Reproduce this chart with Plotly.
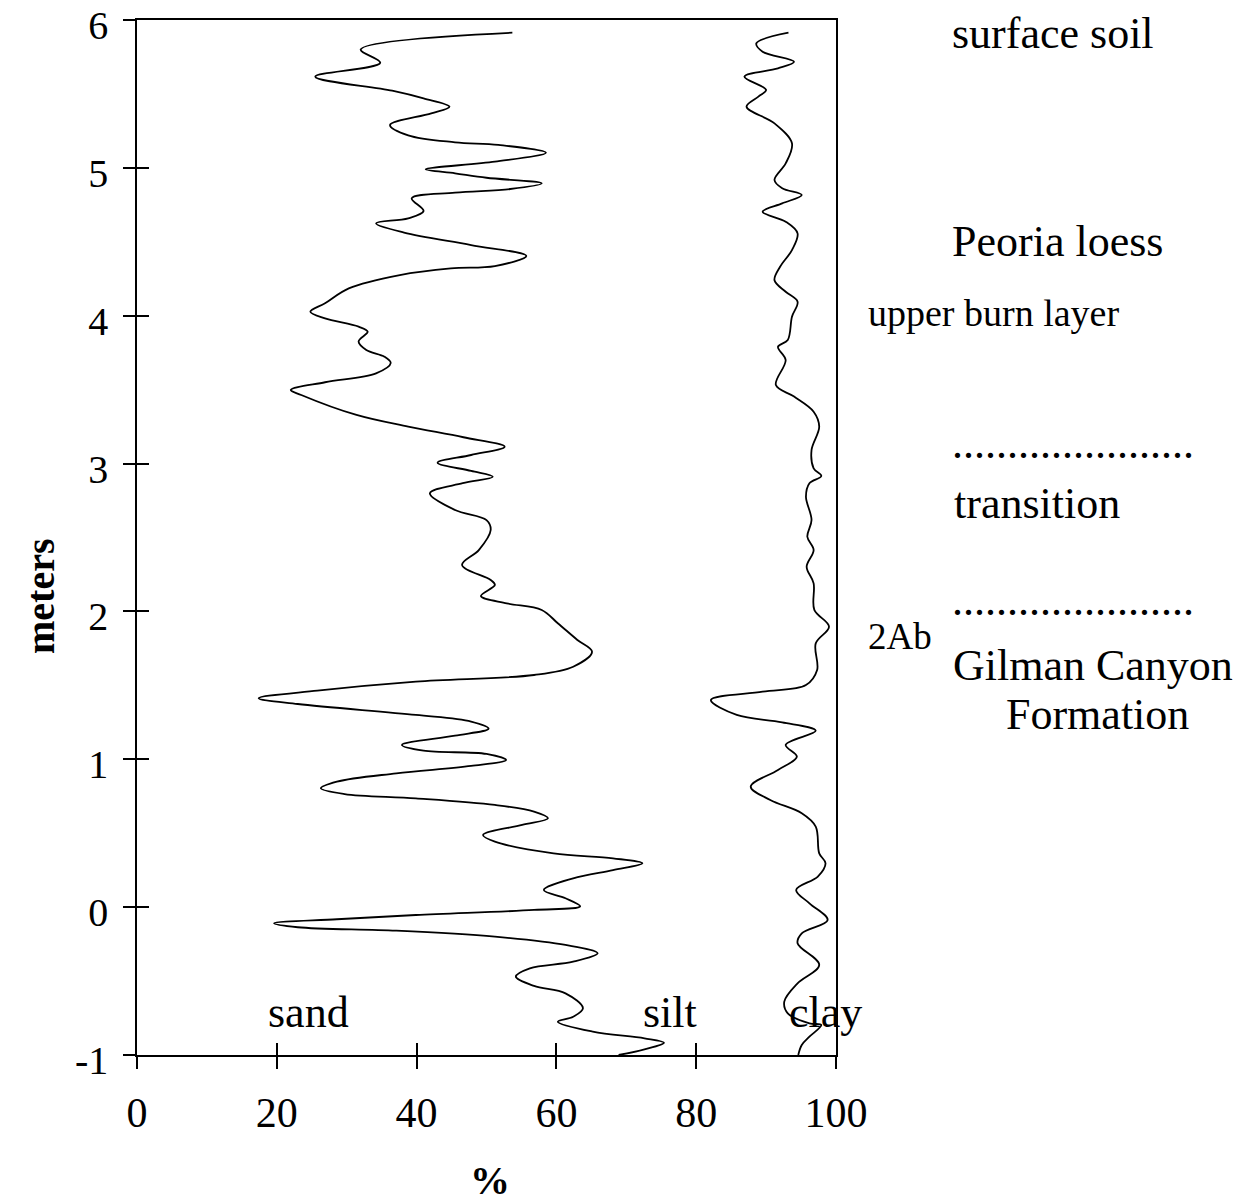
import plotly.graph_objects as go

# ---- data ----
sand_depth = [5.914, 5.80, 5.711, 5.617, 5.522, 5.47, 5.414, 5.369, 5.29, 5.22, 5.173, 5.155, 5.103,
              5.042, 4.99, 4.963, 4.933, 4.895, 4.857, 4.832, 4.794, 4.708, 4.659, 4.625, 4.562,
              4.478, 4.404, 4.336, 4.32, 4.275, 4.185, 4.084, 4.027, 3.982, 3.926, 3.892, 3.825,
              3.768, 3.723, 3.68, 3.61, 3.55, 3.498, 3.464, 3.329, 3.25, 3.178, 3.114, 3.058,
              3.006, 2.95, 2.911, 2.867, 2.799, 2.686, 2.618, 2.551, 2.415, 2.314, 2.213, 2.179,
              2.104, 2.055, 2.01, 1.92, 1.807, 1.728, 1.626, 1.57, 1.525, 1.464, 1.413, 1.374,
              1.30, 1.255, 1.207, 1.16, 1.097, 1.058, 1.036, 0.995, 0.955, 0.905, 0.849, 0.804,
              0.765, 0.736, 0.691, 0.646, 0.601, 0.556, 0.488, 0.443, 0.364, 0.33, 0.297, 0.251,
              0.195, 0.116, 0.06, 0.006, -0.019, -0.053, -0.082, -0.109, -0.136, -0.159, -0.2,
              -0.256, -0.312, -0.369, -0.414, -0.47, -0.533, -0.583, -0.684, -0.741, -0.775,
              -0.842, -0.887, -0.917, -0.962, -1.0]
sand_pct = [53.7, 32.0, 34.8, 25.5, 36.5, 41.0, 44.7, 42.1, 36.2, 38.8, 45.5, 51.7, 58.5,
            51.2, 41.3, 45.5, 50.0, 57.9, 53.4, 45.5, 39.3, 41.0, 38.8, 34.2, 38.2,
            47.8, 55.7, 51.2, 44.9, 37.6, 30.3, 26.9, 24.8, 26.9, 31.7, 33.0, 31.7,
            32.8, 35.4, 36.3, 34.2, 26.9, 22.0, 23.5, 31.4, 38.8, 46.7, 52.6, 47.8,
            43.0, 47.8, 50.9, 46.6, 41.9, 45.5, 50.0, 50.6, 48.9, 46.5, 50.6, 51.2,
            49.2, 52.9, 57.9, 60.2, 63.0, 65.1, 62.4, 56.8, 39.9, 25.8, 17.4, 23.0,
            39.9, 47.8, 50.3, 45.5, 37.9, 41.0, 50.0, 52.8, 47.8, 37.1, 28.6, 26.3,
            29.7, 39.9, 51.2, 56.8, 58.8, 55.1, 49.5, 51.2, 59.6, 68.1, 72.3, 68.1,
            62.4, 58.2, 61.3, 63.4, 56.8, 39.9, 28.6, 19.6, 23.0, 37.1, 51.2,
            61.3, 65.9, 62.4, 56.2, 54.2, 56.8, 61.3, 63.8, 62.4, 60.2,
            65.2, 72.6, 75.4, 72.6, 68.9]

clay_depth = [5.914, 5.842, 5.786, 5.718, 5.673, 5.617, 5.527, 5.482, 5.414, 5.301, 5.166, 5.03,
              4.918, 4.862, 4.816, 4.76, 4.703, 4.636, 4.557, 4.444, 4.331, 4.24, 4.162, 4.095,
              3.993, 3.836, 3.79, 3.7, 3.531, 3.453, 3.351, 3.25, 3.092, 2.968, 2.916, 2.867,
              2.776, 2.618, 2.505, 2.415, 2.303, 2.19, 2.01, 1.897, 1.784, 1.604, 1.502, 1.457,
              1.401, 1.300, 1.25, 1.193, 1.097, 1.018, 0.928, 0.815, 0.725, 0.635, 0.545, 0.364,
              0.297, 0.207, 0.116, 0.026, -0.087, -0.177, -0.244, -0.391, -0.515, -0.639, -0.718,
              -0.786, -0.797, -0.876, -0.932, -1.0]
clay_pct = [93.2, 88.6, 89.5, 94.0, 91.7, 86.9, 90.0, 88.9, 87.2, 91.2, 93.7, 92.8,
            91.2, 92.3, 95.1, 92.3, 89.5, 92.8, 94.5, 93.7, 92.0, 91.2, 92.8, 94.5,
            93.7, 93.1, 91.7, 92.8, 91.4, 94.0, 96.8, 97.6, 96.5, 96.8, 97.9, 96.2,
            95.7, 96.5, 95.9, 96.8, 95.8, 96.8, 96.9, 99.0, 97.1, 97.3, 95.7, 89.5,
            82.1, 85.8, 92.3, 97.1, 92.8, 94.4, 91.7, 87.8, 90.6, 95.1, 97.1, 97.6,
            98.5, 97.4, 94.3, 96.2, 98.8, 95.1, 94.5, 97.6, 94.5, 92.6, 93.1,
            96.2, 97.9, 96.2, 95.1, 94.6]

x_ticks = [0, 20, 40, 60, 80, 100]
x_ticktext = ["0", "20", "40", "60", "80", "100"]
y_ticks = [-1, 0, 1, 2, 3, 4, 5, 6]
y_ticktext = ["-1", "0", "1", "2", "3", "4", "5", "6"]

curve_labels = ["sand", "silt", "clay"]
curve_label_x = [18.5, 72.1, 93.0]
curve_label_y = [-0.71, -0.71, -0.71]

# ---- figure geometry ----
W, H = 1246, 1203
L, R, T, B = 137, 836, 20, 1055
FONT = "Liberation Serif"


def px(x):
    return (x - L) / (R - L)


def py(y):
    return (B - y) / (B - T)


line_style = dict(color="black", width=1.8, shape="spline", smoothing=1.0)

fig = go.Figure()
fig.add_trace(go.Scatter(x=sand_pct, y=sand_depth, mode="lines", line=line_style,
                         hoverinfo="skip", showlegend=False))
fig.add_trace(go.Scatter(x=clay_pct, y=clay_depth, mode="lines", line=line_style,
                         hoverinfo="skip", showlegend=False))
# invisible trace for the overlay axes carrying the inward half of the cross ticks
fig.add_trace(go.Scatter(x=[50], y=[2], xaxis="x2", yaxis="y2", mode="markers", marker=dict(opacity=0),
                         hoverinfo="skip", showlegend=False))

axis_common = dict(showgrid=False, zeroline=False, color="black", tickcolor="black", ticklen=12, tickwidth=1.5,
                   automargin=False)

fig.update_layout(
    width=W, height=H,
    margin=dict(l=L, r=W - R, t=T, b=H - B, pad=0, autoexpand=False),
    paper_bgcolor="white", plot_bgcolor="white",
    font=dict(family=FONT, color="black"),
    xaxis=dict(range=[0, 100], tickvals=x_ticks, ticktext=x_ticktext, ticks="outside",
               showline=True, linecolor="black", linewidth=1.5, mirror=True,
               tickfont=dict(family=FONT, size=42), ticklabelstandoff=8, ticklabeloverflow="allow",
               **axis_common),
    yaxis=dict(range=[-1, 6], tickvals=y_ticks, ticktext=y_ticktext, ticks="outside",
               showline=True, linecolor="black", linewidth=1.5, mirror=True,
               tickfont=dict(family=FONT, size=40), ticklabelstandoff=7, ticklabelshift=5,
               ticklabeloverflow="allow", **axis_common),
    xaxis2=dict(range=[0, 100], tickvals=x_ticks, ticks="inside", overlaying="x", anchor="y2", side="bottom",
                showticklabels=False, showline=False, **axis_common),
    yaxis2=dict(range=[-1, 6], tickvals=y_ticks, ticks="inside", overlaying="y", anchor="x2", side="left",
                showticklabels=False, showline=False, **axis_common),
)

ann = []
# axis titles
ann.append(dict(text="<b>meters</b>", x=px(40), y=py(597), xref="paper", yref="paper", textangle=-90,
                showarrow=False, font=dict(size=40), xanchor="center", yanchor="middle"))
ann.append(dict(text="<b>%</b>", x=px(490), y=py(1180), xref="paper", yref="paper",
                showarrow=False, font=dict(size=40), xanchor="center", yanchor="middle"))
# curve labels
for t, xv, yv in zip(curve_labels, curve_label_x, curve_label_y):
    ann.append(dict(text=t, x=xv, y=yv, xref="x", yref="y", showarrow=False, font=dict(size=44),
                    xanchor="left", yanchor="middle"))
# stratigraphy labels on the right
right_labels = [
    ("surface soil", 950, 34, 44, "left"),
    ("Peoria loess", 950, 241, 44, "left"),
    ("upper burn layer", 866, 313, 38, "left"),
    ("." * 22, 950, 444, 44, "left"),
    ("transition", 952, 503, 44, "left"),
    ("." * 22, 950, 600, 44, "left"),
    ("2Ab", 866, 636, 37, "left"),
    ("Gilman Canyon", 1093, 665, 44, "center"),
    ("Formation", 1097, 714, 44, "center"),
]
for t, xx, yy, fs, anc in right_labels:
    ann.append(dict(text=t, x=px(xx), y=py(yy), xref="paper", yref="paper", showarrow=False,
                    font=dict(size=fs), xanchor=anc, yanchor="middle"))
fig.update_layout(annotations=ann)

fig.write_html("out.html")
